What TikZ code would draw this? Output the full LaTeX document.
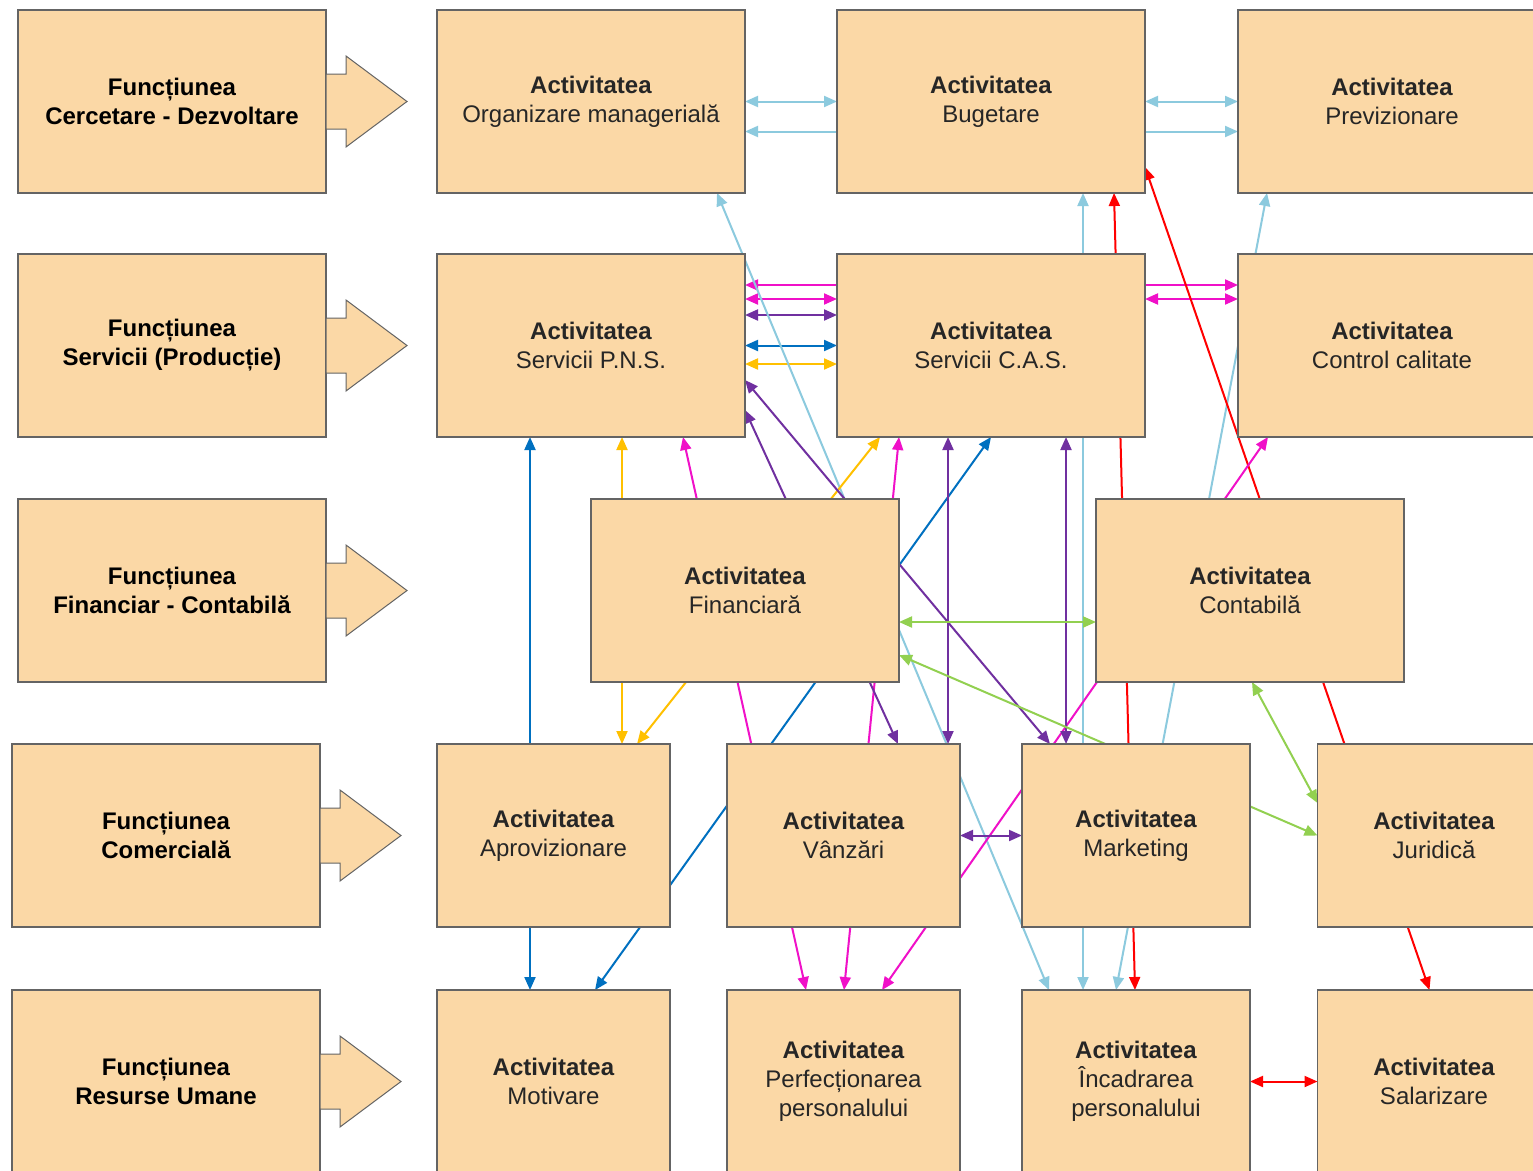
\documentclass[tikz,border=0pt]{standalone}
\usepackage{fontspec}
\setmainfont{Liberation Sans}
\usetikzlibrary{arrows.meta,calc}
\pgfdeclarelayer{bg}
\pgfsetlayers{bg,main}
\definecolor{boxfill}{RGB}{251,216,166}
\definecolor{boxline}{RGB}{100,100,100}
\definecolor{lblue}{RGB}{140,202,222}
\definecolor{mag}{RGB}{240,16,200}
\definecolor{purp}{RGB}{112,48,160}
\definecolor{dblue}{RGB}{0,112,192}
\definecolor{gold}{RGB}{255,192,0}
\definecolor{lgreen}{RGB}{146,208,80}

\begin{document}
\begin{tikzpicture}[x=1pt, y=-1pt,
            base/.style={rectangle, draw=boxline, line width=1.5pt, fill=boxfill, minimum height=183pt, align=center, inner sep=0pt, outer sep=0pt, text=black!85, font=\fontsize{24}{29}\selectfont},
            func/.style={base, minimum width=308pt, text=black, font=\bfseries\fontsize{24}{29}\selectfont},
            wide/.style={base, minimum width=308pt},
            narrow/.style={base, minimum width=233pt},
            block/.style={draw=boxline, line width=1pt, fill=boxfill, line join=miter},
            link/.style={line width=2pt, {Triangle[length=13pt,width=11pt]}-{Triangle[length=13pt,width=11pt]}}
        ]
        \useasboundingbox (0,0) rectangle (1533,1170);
        \clip (0,0) rectangle (1533,1170);

        % functions
        \node[func] (f1) at (172,101.5) {Funcțiunea\\Cercetare - Dezvoltare};
        \node[func] (f2) at (172,345.5) {Funcțiunea\\Servicii (Producție)};
        \node[func] (f3) at (172,590.5) {Funcțiunea\\Financiar - Contabilă};
        \node[func] (f4) at (166,835.5) {Funcțiunea\\Comercială};
        \node[func] (f5) at (166,1081.5) {Funcțiunea\\Resurse Umane};
        \foreach \f in {f1,f2,f3,f4,f5}
            \draw[block] ($(\f.east)+(0,-27.5)$) -- ++(20,0) -- ++(0,-18) -- ++(61,45.5) -- ++(-61,45.5) -- ++(0,-18) -- ++(-20,0) -- cycle;

        % activities
        \node[wide] (org) at (591,101.5) {\textbf{Activitatea}\\Organizare managerială};
        \node[wide] (buget) at (991,101.5) {\textbf{Activitatea}\\Bugetare};
        \node[wide] (previz) at (1392,101.5) {\textbf{Activitatea}\\Previzionare};
        \node[wide] (pns) at (591,345.5) {\textbf{Activitatea}\\Servicii P.N.S.};
        \node[wide] (cas) at (991,345.5) {\textbf{Activitatea}\\Servicii C.A.S.};
        \node[wide] (ctrl) at (1392,345.5) {\textbf{Activitatea}\\Control calitate};
        \node[wide] (fin) at (745,590.5) {\textbf{Activitatea}\\Financiară};
        \node[wide] (contab) at (1250,590.5) {\textbf{Activitatea}\\Contabilă};
        \node[narrow] (aprov) at (553.5,835.5) {\textbf{Activitatea}\\Aprovizionare};
        \node[narrow] (vanz) at (843.5,835.5) {\textbf{Activitatea}\\Vânzări};
        \node[narrow, minimum width=228pt] (mark) at (1136,835.5) {\textbf{Activitatea}\\Marketing};
        \node[narrow] (jurid) at (1434,835.5) {\textbf{Activitatea}\\Juridică};
        \node[narrow] (motiv) at (553.5,1081.5) {\textbf{Activitatea}\\Motivare};
        \node[narrow] (perf) at (843.5,1081.5) {\textbf{Activitatea}\\Perfecționarea\\personalului};
        \node[narrow, minimum width=228pt] (incad) at (1136,1081.5) {\textbf{Activitatea}\\Încadrarea\\personalului};
        \node[narrow] (salar) at (1434,1081.5) {\textbf{Activitatea}\\Salarizare};

        \begin{pgfonlayer}{bg}
        \fill[white] (0,0) rectangle (1533,1170);
        % top row
        \draw[link, lblue] (org.east) -- (buget.west);
        \draw[link, lblue] (buget.east) -- (previz.west);
        \draw[link, lblue] ([yshift=-30pt]org.east) -- ([yshift=-30pt]previz.west);
        % services row
        \draw[link, mag] ([yshift=60.5pt]pns.east) -- ([yshift=60.5pt]ctrl.west);
        \draw[link, mag] ([yshift=46.5pt]pns.east) -- ([yshift=46.5pt]cas.west);
        \draw[link, mag] ([yshift=46.5pt]cas.east) -- ([yshift=46.5pt]ctrl.west);
        \draw[link, purp] ([yshift=30.5pt]pns.east) -- ([yshift=30.5pt]cas.west);
        \draw[link, dblue] (pns.east) -- (cas.west);
        \draw[link, gold] ([yshift=-18.5pt]pns.east) -- ([yshift=-18.5pt]cas.west);
        % light blue and red
        \draw[link, lblue] ($(org.south west)+(280,0)$) -- ($(incad.north west)+(27,0)$);
        \draw[link, lblue] ($(buget.south west)+(246,0)$) -- ($(incad.north west)+(61,0)$);
        \draw[link, lblue] ($(previz.south west)+(29,0)$) -- ($(incad.north west)+(94,0)$);
        \draw[link, red] ($(buget.south west)+(277,0)$) -- ($(incad.north west)+(113,0)$);
        \draw[link, red] ([yshift=-65.5pt]buget.east) -- ($(salar.north west)+(112,0)$);
        \draw[link, red] (incad.east) -- (salar.west);
        % blue and yellow
        \draw[link, dblue] ($(pns.south west)+(93,0)$) -- ($(motiv.north west)+(93,0)$);
        \draw[link, dblue] ($(motiv.north west)+(158,0)$) -- (cas.south);
        \draw[link, gold] ($(pns.south west)+(185,0)$) -- ($(aprov.north west)+(185,0)$);
        \draw[link, gold] ($(aprov.north west)+(200,0)$) -- ($(cas.south west)+(43,0)$);
        % magenta
        \draw[link, mag] ($(pns.south west)+(246,0)$) -- ($(perf.north west)+(79,0)$);
        \draw[link, mag] ($(cas.south west)+(62,0)$) -- ($(perf.north west)+(117,0)$);
        \draw[link, mag] ($(ctrl.south west)+(30,0)$) -- ($(perf.north west)+(155,0)$);
        % purple
        \draw[link, purp] ([yshift=-34.5pt]pns.east) -- ($(mark.north west)+(28,0)$);
        \draw[link, purp] ([yshift=-64.5pt]pns.east) -- ($(vanz.north west)+(171,0)$);
        \draw[link, purp] ($(cas.south west)+(111,0)$) -- ($(vanz.north west)+(221,0)$);
        \draw[link, purp] ($(cas.south west)+(229,0)$) -- ($(mark.north west)+(44,0)$);
        \draw[link, purp] (vanz.east) -- (mark.west);
        % green
        \draw[link, lgreen] ([yshift=-31.5pt]fin.east) -- ([yshift=-31.5pt]contab.west);
        \draw[link, lgreen] ([yshift=-64.5pt]fin.east) -- (jurid.west);
        \draw[link, lgreen] ($(contab.south west)+(156,0)$) -- ([yshift=32.5pt]jurid.west);
        \end{pgfonlayer}
    \end{tikzpicture}
\end{document}
